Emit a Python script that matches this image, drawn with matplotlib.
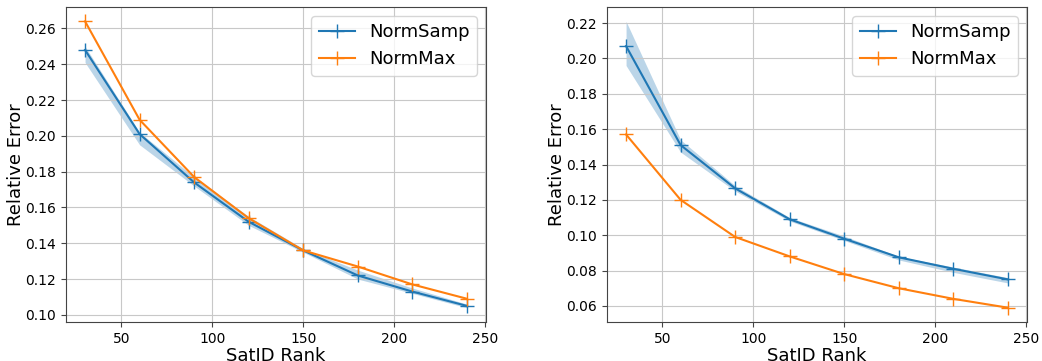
import numpy as np
import matplotlib
matplotlib.use("Agg")
import matplotlib.pyplot as plt

ranks = [30, 60, 90, 120, 150, 180, 210, 240]

# left panel
left_samp = [0.248, 0.201, 0.174, 0.152, 0.136, 0.122, 0.113, 0.105]
left_samp_lo = [0.241, 0.195, 0.172, 0.150, 0.135, 0.120, 0.112, 0.104]
left_samp_hi = [0.250, 0.202, 0.177, 0.155, 0.137, 0.125, 0.115, 0.106]
left_max = [0.264, 0.209, 0.177, 0.154, 0.136, 0.127, 0.117, 0.109]

# right panel
right_samp = [0.207, 0.151, 0.1265, 0.109, 0.098, 0.0875, 0.081, 0.075]
right_samp_lo = [0.196, 0.147, 0.125, 0.108, 0.097, 0.086, 0.079, 0.073]
right_samp_hi = [0.221, 0.154, 0.128, 0.110, 0.0995, 0.088, 0.082, 0.076]
right_max = [0.157, 0.120, 0.099, 0.088, 0.078, 0.070, 0.064, 0.059]

panels = [
    (left_samp, left_samp_lo, left_samp_hi, left_max),
    (right_samp, right_samp_lo, right_samp_hi, right_max),
]

fig = plt.figure(figsize=(10.42, 3.61), dpi=100)
boxes = [[0.0633, 0.108, 0.4031, 0.8726], [0.5825, 0.108, 0.4031, 0.8726]]

for box, (samp, lo, hi, mx) in zip(boxes, panels):
    ax = fig.add_axes(box)
    ax.plot(ranks, samp, marker="+", markersize=10, color="tab:blue", label="NormSamp")
    ax.fill_between(ranks, lo, hi, color="tab:blue", alpha=0.3, linewidth=0)
    ax.plot(ranks, mx, marker="+", markersize=10, color="tab:orange", label="NormMax")
    ax.grid(True, color="#c8c8c8")
    for sp in ax.spines.values():
        sp.set_color("#444444")
    ax.tick_params(labelsize=10, color="#444444")
    ax.set_xlabel("SatID Rank", fontsize=13, labelpad=1)
    ax.set_ylabel("Relative Error", fontsize=13, labelpad=0)
    ax.set_xticks([50, 100, 150, 200, 250])
    ax.legend(loc="upper right", fontsize=13)

fig.savefig("out.png", dpi=100)
